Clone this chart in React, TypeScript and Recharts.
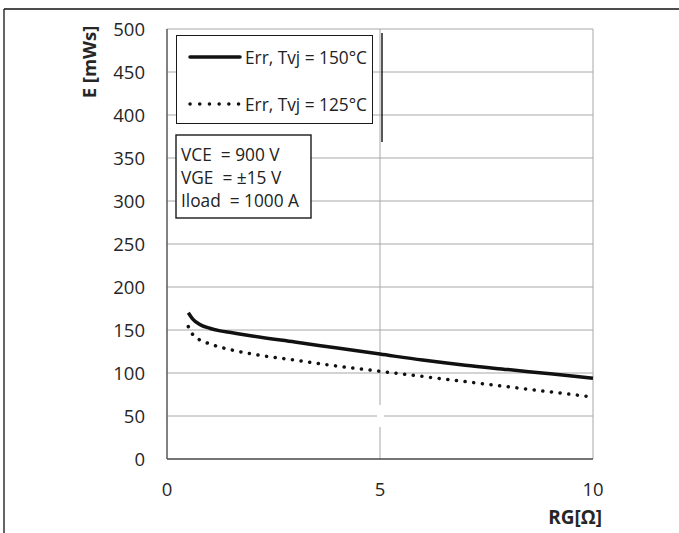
import React from "react";
import { LineChart, Line, XAxis, YAxis, CartesianGrid, Legend } from "recharts";

// gate resistance RG [Ohm]
const RG_150 = [0.5, 0.6, 0.75, 1, 1.25, 1.5, 2, 3, 4, 5, 6, 7, 8, 9, 10];
const ERR_150 = [170, 163, 157, 152, 149, 147, 143, 136, 129, 122, 115, 109, 104, 99, 94];

const RG_125 = [0.5, 0.6, 0.75, 1, 1.25, 1.5, 2, 3, 4, 5, 6, 7, 8, 9, 9.85];
const ERR_125 = [154, 145, 139, 134, 130, 127, 122, 115, 108, 102, 96, 90, 84, 78, 73];

const SERIES_NAMES = ["Err, Tvj = 150°C", "Err, Tvj = 125°C"];

const X_TICKS = [0, 5, 10];
const Y_TICKS = [0, 50, 100, 150, 200, 250, 300, 350, 400, 450, 500];

const CONDITIONS = ["VCE  = 900 V", "VGE  = ±15 V", "Iload  = 1000 A"];

const FONT = "'Open Sans', sans-serif";

const data150 = RG_150.map((rg, i) => ({ rg, e: ERR_150[i] }));
const data125 = RG_125.map((rg, i) => ({ rg, e: ERR_125[i] }));

const LegendBox = ({ payload }: any) => {
  const items = [...(payload || [])].sort(
    (a: any, b: any) => SERIES_NAMES.indexOf(a.value) - SERIES_NAMES.indexOf(b.value)
  );
  return (
    <div
      style={{
        width: 197,
        height: 89,
        boxSizing: "border-box",
        border: "1.4px solid #1a1a1a",
        background: "#fff",
      }}
    >
      <svg width={195} height={87} style={{ display: "block" }}>
        {items.map((p: any, i: number) => {
          const y = 21 + i * 47;
          return (
            <g key={p.value}>
              <line
                x1={13}
                x2={63}
                y1={y}
                y2={y}
                stroke="#111"
                strokeWidth={3.5}
                strokeDasharray={i === 1 ? "0.1 9.6" : undefined}
                strokeLinecap="round"
              />
              <text x={68} y={y} dominantBaseline="central" fontSize={17.3} fontFamily={FONT} fill="#222">
                {p.value}
              </text>
            </g>
          );
        })}
      </svg>
    </div>
  );
};

const App = () => {
  return (
    <div style={{ position: "absolute", left: 0, top: 0, width: 679, height: 533, background: "#fff" }}>
      <LineChart
        width={679}
        height={533}
        margin={{ top: 29, right: 86, bottom: 0, left: 0 }}
        style={{ position: "absolute", left: 0, top: 0 }}
      >
        <CartesianGrid stroke="#a8a8a8" strokeWidth={1} />
        <XAxis
          type="number"
          dataKey="rg"
          domain={[0, 10]}
          ticks={X_TICKS}
          tickSize={0}
          tickMargin={24}
          axisLine={{ stroke: "#555", strokeWidth: 1.3 }}
          tick={{ fontSize: 18.5, fontFamily: FONT, fill: "#262626" }}
          height={74}
          label={({ viewBox }: any) => (
            <text
              x={viewBox.x + viewBox.width + 9}
              y={viewBox.y + 65}
              textAnchor="end"
              fontSize={19}
              fontWeight="bold"
              fontFamily={FONT}
              fill="#262626"
            >
              RG[Ω]
            </text>
          )}
        />
        <YAxis
          type="number"
          domain={[0, 500]}
          ticks={Y_TICKS}
          tickSize={0}
          tickMargin={22}
          width={167}
          axisLine={{ stroke: "#555", strokeWidth: 1.3 }}
          tick={{ fontSize: 18.5, fontFamily: FONT, fill: "#262626" }}
          label={() => (
            <text
              x={88}
              y={62}
              transform="rotate(-90 88 62)"
              textAnchor="middle"
              dominantBaseline="central"
              fontSize={18.5}
              fontWeight="bold"
              fontFamily={FONT}
              fill="#262626"
            >
              E [mWs]
            </text>
          )}
        />
        <Legend
          layout="vertical"
          align="center"
          verticalAlign="middle"
          wrapperStyle={{ left: 176, top: 35, width: 197, height: 89 }}
          content={<LegendBox />}
        />
        <Line
          data={data150}
          dataKey="e"
          name={SERIES_NAMES[0]}
          type="monotone"
          stroke="#111"
          strokeWidth={3.5}
          dot={false}
          isAnimationActive={false}
        />
        <Line
          data={data125}
          dataKey="e"
          name={SERIES_NAMES[1]}
          type="monotone"
          stroke="#111"
          strokeWidth={3.5}
          strokeDasharray="0.1 8.6"
          strokeLinecap="round"
          dot={false}
          isAnimationActive={false}
        />
      </LineChart>
      <svg
        width={679}
        height={533}
        style={{ position: "absolute", left: 0, top: 0, pointerEvents: "none" }}
      >
        <line x1={4} x2={679} y1={9} y2={9} stroke="#111" strokeWidth={1.3} />
        <line x1={4} x2={4} y1={9} y2={533} stroke="#111" strokeWidth={1.3} />
        <line x1={382} x2={382} y1={33} y2={142} stroke="#111" strokeWidth={1.4} />
        <rect x={377} y={405} width={7} height={22} fill="#fff" />
        <rect x={176} y={135} width={135} height={83} fill="#fff" stroke="#1a1a1a" strokeWidth={1.4} />
        {CONDITIONS.map((c, i) => (
          <text
            key={c}
            x={181}
            y={154 + i * 23}
            dominantBaseline="central"
            fontSize={17.3}
            fontFamily={FONT}
            fill="#222"
            style={{ whiteSpace: "pre" }}
          >
            {c}
          </text>
        ))}
      </svg>
    </div>
  );
};

export default App;
